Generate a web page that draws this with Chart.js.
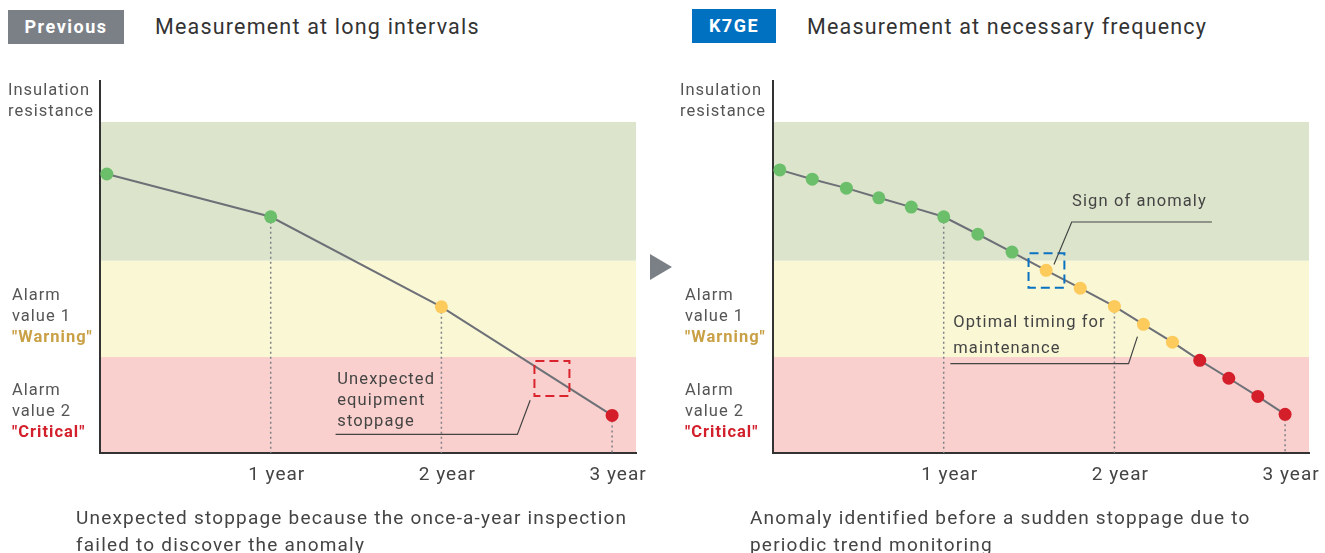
<!DOCTYPE html>
<html>
<head>
<meta charset="utf-8">
<script src="https://cdn.jsdelivr.net/npm/chart.js@4"></script>
<style>
  body { margin: 0; width: 1325px; height: 553px; overflow: hidden; background: #fff; position: relative; font-family: Roboto, sans-serif; }
  .t { position: absolute; white-space: nowrap; color: #333; letter-spacing: 1.2px; }
  .badge { position: absolute; color: #fff; font-weight: bold; font-size: 18px; letter-spacing: 1.5px; text-align: center; line-height: 34px; }
  .ylab { position: absolute; white-space: nowrap; color: #555; font-size: 16.5px; letter-spacing: 1px; line-height: 21px; }
  .cap { position: absolute; white-space: nowrap; color: #444; font-size: 19px; letter-spacing: 1.2px; line-height: 27px; }
  canvas { position: absolute; top: 0; }
  #arrow { position: absolute; left: 650px; top: 254px; width: 0; height: 0;
           border-top: 13px solid transparent; border-bottom: 13px solid transparent; border-left: 22px solid #7b8087; }
</style>
</head>
<body>
<div class="badge" style="left:8px;top:10px;width:116px;height:34px;background:#7b8087;">Previous</div>
<div class="t" style="left:155px;top:14px;font-size:21.5px;line-height:26px;">Measurement at long intervals</div>
<div class="badge" style="left:692px;top:9px;width:84px;height:34px;background:#0071c0;">K7GE</div>
<div class="t" style="left:807px;top:14px;font-size:21.5px;line-height:26px;">Measurement at necessary frequency</div>

<canvas id="prev" width="662" height="553" style="left:0;"></canvas>
<canvas id="k7ge" width="663" height="553" style="left:662px;"></canvas>

<div class="ylab" style="left:8px;top:79px;">Insulation<br>resistance</div>
<div class="ylab" style="left:12px;top:284px;">Alarm<br>value 1<br><b style="color:#c9a046">"Warning"</b></div>
<div class="ylab" style="left:12px;top:379px;">Alarm<br>value 2<br><b style="color:#d21f2b">"Critical"</b></div>

<div class="ylab" style="left:680px;top:79px;">Insulation<br>resistance</div>
<div class="ylab" style="left:685px;top:284px;">Alarm<br>value 1<br><b style="color:#c9a046">"Warning"</b></div>
<div class="ylab" style="left:685px;top:379px;">Alarm<br>value 2<br><b style="color:#d21f2b">"Critical"</b></div>

<div id="arrow"></div>

<div class="cap" style="left:76px;top:504px;">Unexpected stoppage because the once-a-year inspection<br>failed to discover the anomaly</div>
<div class="cap" style="left:750px;top:504px;">Anomaly identified before a sudden stoppage due to<br>periodic trend monitoring</div>

<script>
// tick labels on the time axis
const tickYears = [1, 2, 3];
const tickLabels = ['1 year', '2 year', '3 year'];

// alarm thresholds (bottom of red, red/yellow, yellow/green, top of green)
const bandLimits = [0, 25.8, 51.7, 89.0];

// "Previous": once-a-year measurement
const prevYears = [0.04, 1, 2, 3];
const prevValues = [75.0, 63.5, 39.3, 10.1];

// "K7GE": measurement at necessary frequency
const k7Years = [0.04, 0.23, 0.43, 0.62, 0.81, 1, 1.2, 1.4, 1.6, 1.8, 2, 2.17, 2.34, 2.5, 2.67, 2.84, 3];
const k7Values = [76.1, 73.6, 71.2, 68.6, 66.1, 63.5, 58.8, 54.0, 49.1, 44.3, 39.4, 34.6, 29.8, 24.9, 20.1, 15.2, 10.4];

const bandColors = ['#f9d0cd', '#faf7d5', '#dce5cc'];
const pointColors = ['#d41f2a', '#fdca5c', '#6cbf6a'];

function levelOf(v) {
  if (v < bandLimits[1]) return 0;
  if (v < bandLimits[2]) return 1;
  return 2;
}

const panelPlugin = {
  id: 'panel',
  beforeDraw(chart) {
    const { ctx, chartArea: a, scales: { y } } = chart;
    // spaced lettering like the rest of the figure (kept for the tick labels)
    ctx.letterSpacing = '1px';
    ctx.save();
    for (let i = 0; i < bandColors.length; i++) {
      const top = y.getPixelForValue(bandLimits[i + 1]);
      const bot = y.getPixelForValue(bandLimits[i]);
      ctx.fillStyle = bandColors[i];
      ctx.fillRect(a.left, top, a.right - a.left, bot - top);
    }
    ctx.restore();
  },
  beforeDatasetsDraw(chart) {
    const { ctx, chartArea: a } = chart;
    const meta = chart.getDatasetMeta(0);
    const data = chart.data.datasets[0].data;
    ctx.save();
    ctx.setLineDash([2, 3]);
    ctx.strokeStyle = '#7d8086';
    ctx.lineWidth = 1.5;
    data.forEach((d, i) => {
      if (!tickYears.includes(d.x)) return;
      const p = meta.data[i];
      ctx.beginPath();
      ctx.moveTo(p.x, p.y);
      ctx.lineTo(p.x, a.bottom);
      ctx.stroke();
    });
    ctx.restore();
  },
  afterDatasetsDraw(chart, args, opts) {
    const { ctx, scales: { x, y } } = chart;
    const px = v => x.getPixelForValue(v);
    const py = v => y.getPixelForValue(v);
    ctx.save();
    const b = opts.box;
    ctx.setLineDash([9, 5]);
    ctx.lineDashOffset = -1;
    ctx.strokeStyle = b.color;
    ctx.lineWidth = 2;
    ctx.strokeRect(px(b.x0), py(b.y1), px(b.x1) - px(b.x0), py(b.y0) - py(b.y1));
    ctx.setLineDash([]);
    ctx.strokeStyle = '#444';
    ctx.lineWidth = 1.2;
    opts.leaders.forEach(l => {
      ctx.beginPath();
      l.forEach((p, i) => i ? ctx.lineTo(px(p[0]), py(p[1])) : ctx.moveTo(px(p[0]), py(p[1])));
      ctx.stroke();
    });
    ctx.fillStyle = '#444';
    ctx.font = '16.5px Roboto';
    ctx.letterSpacing = '1.1px';
    ctx.textBaseline = 'middle';
    opts.texts.forEach(t => {
      ctx.textAlign = t.align;
      ctx.fillText(t.text, px(t.x), py(t.y));
    });
    ctx.restore();
  }
};

function makePanel(id, xs, ys, padding, notes) {
  const points = xs.map((v, i) => ({ x: v, y: ys[i] }));
  return new Chart(document.getElementById(id), {
    type: 'line',
    data: {
      datasets: [{
        data: points,
        borderColor: '#6d7077',
        borderWidth: 2,
        pointRadius: 6.5,
        pointBorderWidth: 0,
        pointBackgroundColor: c => pointColors[levelOf(c.raw.y)],
        clip: false
      }]
    },
    options: {
      responsive: false,
      animation: false,
      layout: { padding: padding },
      plugins: { legend: { display: false }, tooltip: { enabled: false }, panel: notes },
      scales: {
        x: {
          type: 'linear', min: 0, max: 3.14,
          grid: { display: false, drawTicks: false },
          border: { display: true, color: '#333', width: 2 },
          afterBuildTicks: s => { s.ticks = tickYears.map(v => ({ value: v })); },
          afterFit: s => { s.height = 40; },
          ticks: {
            autoSkip: false, maxRotation: 0, padding: 11, labelOffset: 6, color: '#444',
            font: { family: 'Roboto', size: 19 },
            callback: v => tickLabels[tickYears.indexOf(v)]
          }
        },
        y: {
          min: 0, max: 100,
          grid: { display: false, drawTicks: false },
          border: { display: true, color: '#333', width: 2 },
          ticks: { display: false },
          afterFit: s => { s.width = 0; }
        }
      }
    },
    plugins: [panelPlugin]
  });
}

makePanel('prev', prevYears, prevValues, { left: 100, top: 81, right: 26, bottom: 60 }, {
  box: { x0: 2.545, x1: 2.75, y0: 15.3, y1: 24.7, color: '#d9232d' },
  leaders: [[[2.52, 14.2], [2.445, 5.0], [1.38, 5.0]]],
  texts: [
    { text: 'Unexpected', x: 1.39, y: 19.6, align: 'left' },
    { text: 'equipment', x: 1.39, y: 14.0, align: 'left' },
    { text: 'stoppage', x: 1.39, y: 8.3, align: 'left' }
  ]
});

makePanel('k7ge', k7Years, k7Values, { left: 111, top: 81, right: 16, bottom: 60 }, {
  box: { x0: 1.497, x1: 1.707, y0: 44.4, y1: 53.7, color: '#0a72c2' },
  leaders: [
    [[1.646, 50.7], [1.75, 62.1], [2.571, 62.1]],
    [[2.135, 31.3], [2.083, 24.0], [1.039, 24.0]]
  ],
  texts: [
    { text: 'Sign of anomaly', x: 2.147, y: 67.4, align: 'center' },
    { text: 'Optimal timing for', x: 1.056, y: 35.1, align: 'left' },
    { text: 'maintenance', x: 1.056, y: 28.0, align: 'left' }
  ]
});
</script>
</body>
</html>
